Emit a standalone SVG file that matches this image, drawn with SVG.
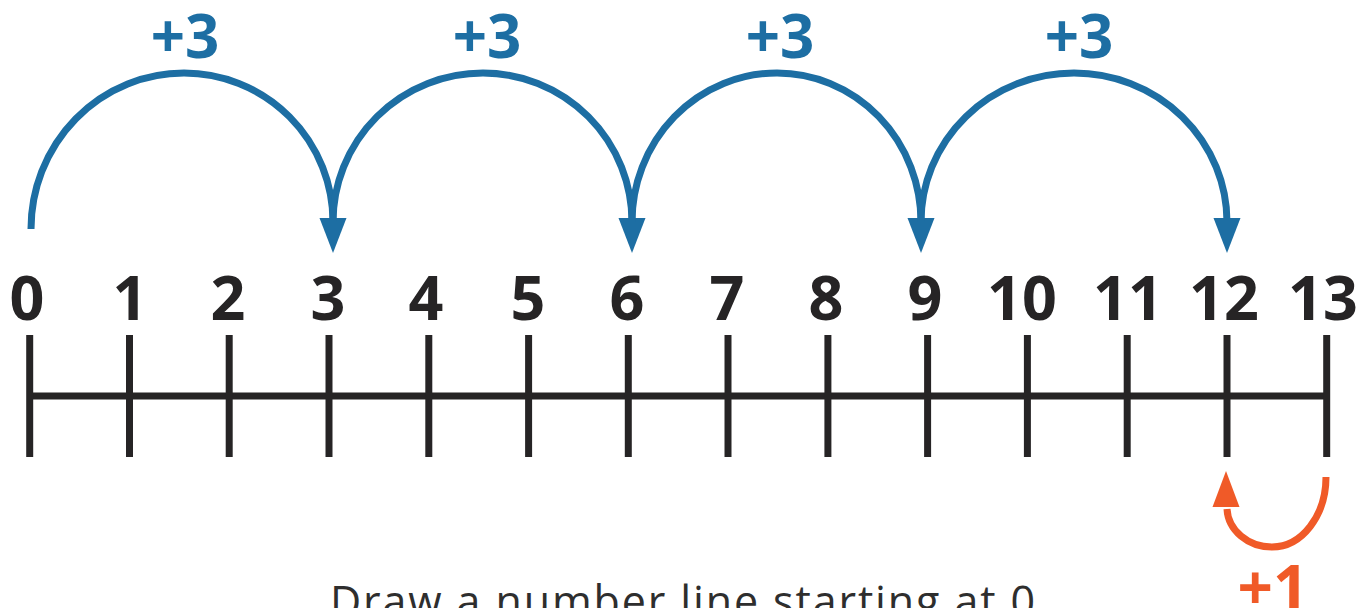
<svg xmlns="http://www.w3.org/2000/svg" width="1366" height="608" viewBox="0 0 1366 608">
  <style>
    .axis { stroke: #262425; stroke-width: 7; fill: none; }
    .num { font-family: "Open Sans", "Liberation Sans", sans-serif; font-weight: 700; font-size: 61px; fill: #262425; text-anchor: middle; }
    .jump { stroke: #1d6ea3; stroke-width: 7; fill: none; }
    .head { fill: #1d6ea3; }
    .jlabel { font-family: "Open Sans", "Liberation Sans", sans-serif; font-weight: 700; font-size: 60px; fill: #1d6ea3; text-anchor: middle; }
    .ojump { stroke: #f05a28; stroke-width: 7; fill: none; }
    .ohead { fill: #f05a28; }
    .olabel { font-family: "Open Sans", "Liberation Sans", sans-serif; font-weight: 700; font-size: 62px; fill: #f05a28; text-anchor: middle; }
    .caption { font-family: "Open Sans", "Liberation Sans", sans-serif; font-weight: 400; font-size: 43px; fill: #2e2e2e; text-anchor: middle; }
  </style>

  <g id="number-line">
    <line class="axis" x1="30" y1="396" x2="1327" y2="396"/>
    <g id="ticks">
      <line class="axis" x1="29.7" y1="335" x2="29.7" y2="457"/>
      <line class="axis" x1="129.5" y1="335" x2="129.5" y2="457"/>
      <line class="axis" x1="229.2" y1="335" x2="229.2" y2="457"/>
      <line class="axis" x1="329" y1="335" x2="329" y2="457"/>
      <line class="axis" x1="428.8" y1="335" x2="428.8" y2="457"/>
      <line class="axis" x1="528.6" y1="335" x2="528.6" y2="457"/>
      <line class="axis" x1="628.3" y1="335" x2="628.3" y2="457"/>
      <line class="axis" x1="728" y1="335" x2="728" y2="457"/>
      <line class="axis" x1="827.9" y1="335" x2="827.9" y2="457"/>
      <line class="axis" x1="927.6" y1="335" x2="927.6" y2="457"/>
      <line class="axis" x1="1027.4" y1="335" x2="1027.4" y2="457"/>
      <line class="axis" x1="1127.2" y1="335" x2="1127.2" y2="457"/>
      <line class="axis" x1="1227" y1="335" x2="1227" y2="457"/>
      <line class="axis" x1="1326.7" y1="335" x2="1326.7" y2="457"/>
    </g>
  </g>

  <g id="labels">
    <g id="n0"><text class="num" x="27" y="320">0</text></g>
    <g id="n1"><text class="num" x="130" y="320">1</text></g>
    <g id="n2"><text class="num" x="228" y="320">2</text></g>
    <g id="n3"><text class="num" x="328" y="320">3</text></g>
    <g id="n4"><text class="num" x="426" y="320">4</text></g>
    <g id="n5"><text class="num" x="528" y="320">5</text></g>
    <g id="n6"><text class="num" x="627" y="320">6</text></g>
    <g id="n7"><text class="num" x="727" y="320">7</text></g>
    <g id="n8"><text class="num" x="826" y="320">8</text></g>
    <g id="n9"><text class="num" x="925" y="320">9</text></g>
    <g id="n10"><text class="num" x="1022" y="320">10</text></g>
    <g id="n11"><text class="num" x="1128" y="320">11</text></g>
    <g id="n12"><text class="num" x="1224" y="320">12</text></g>
    <g id="n13"><text class="num" x="1323" y="320">13</text></g>
  </g>

  <g id="connectors">
    <g id="jump1">
      <path class="jump" d="M31,229 A153,156 0 0 1 184,73 A149,149 0 0 1 333,222"/>
      <polygon class="head" points="319.5,218 346.5,218 333,253"/>
      <text class="jlabel" x="185" y="58">+3</text>
    </g>
    <g id="jump2">
      <path class="jump" d="M333,222 A150,149 0 0 1 483,73 A149,149 0 0 1 632,222"/>
      <polygon class="head" points="618.5,218 645.5,218 632,253"/>
      <text class="jlabel" x="487" y="58">+3</text>
    </g>
    <g id="jump3">
      <path class="jump" d="M632,222 A145,149 0 0 1 777,73 A144,149 0 0 1 921,222"/>
      <polygon class="head" points="907.5,218 934.5,218 921,253"/>
      <text class="jlabel" x="780" y="58">+3</text>
    </g>
    <g id="jump4">
      <path class="jump" d="M921,222 A153,149 0 0 1 1074,73 A153,149 0 0 1 1227,222"/>
      <polygon class="head" points="1213.5,218 1240.5,218 1227,253"/>
      <text class="jlabel" x="1079" y="58">+3</text>
    </g>
    <g id="jump-back">
      <path class="ojump" d="M1326,477 A54,70 0 0 1 1272,547 A45,40 0 0 1 1227,509"/>
      <polygon class="ohead" points="1212.5,507 1239.5,507 1226,471"/>
      <text class="olabel" x="1273" y="610">+1</text>
    </g>
  </g>

  <g id="caption">
    <text class="caption" x="682.5" y="617" textLength="705" lengthAdjust="spacing">Draw a number line starting at 0</text>
  </g>
</svg>
